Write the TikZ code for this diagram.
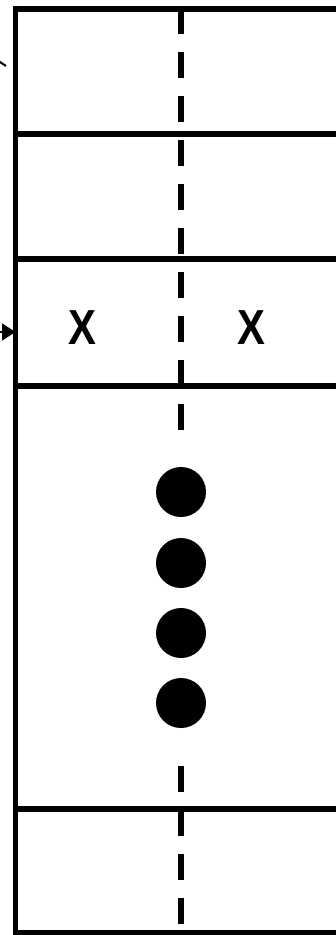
\documentclass[tikz,border=0pt]{standalone}
\usepackage{fontspec}
\setmainfont{Liberation Sans}
\usetikzlibrary{arrows.meta}
\tikzset{
  wall/.style={line width=0.16cm},
  split/.style={line width=0.18cm, dash pattern=on 0.78cm off 0.54cm},
  slot/.style={font=\fontsize{42}{42}\selectfont\bfseries, xscale=0.85, inner sep=0pt},
  dot/.style={circle, fill, inner sep=0pt, minimum size=1.5cm},
  ptr/.style={line width=0.06cm},
}
\begin{document}
\begin{tikzpicture}[x=0.03cm,y=-0.03cm]
\useasboundingbox (0,0) rectangle (335,935);
% row boundaries
\foreach \r in {9,134,259,386,809,933}
  \draw[wall] (15.5,\r) -- (340,\r);
\draw[wall] (15.5,6.5) -- (15.5,940);
% middle split
\draw[split] (181,8) -- (181,430);
\draw[split] (181,766) -- (181,940);
% entries
\node[slot] (xl) at (82,328) {X};
\node[slot] (xr) at (251,328) {X};
\foreach \y [count=\i] in {492,563,633,703}
  \node[dot] (d\i) at (181,\y) {};
% pointers
\coordinate (in) at (15.5,332);
\coordinate (top) at (6,66);
\draw[ptr, -{Triangle[length=0.4cm,width=0.5cm]}] (-20,332) -- (in);
\draw[ptr] (-12,54) -- (top);
\end{tikzpicture}
\end{document}
